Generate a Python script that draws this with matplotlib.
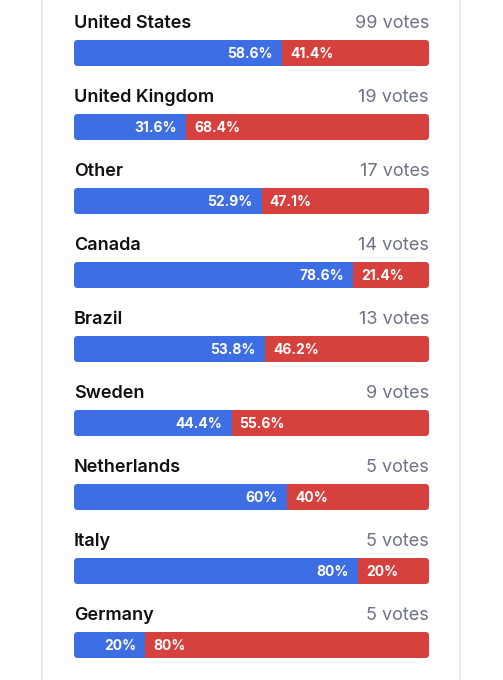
import matplotlib
matplotlib.use('Agg')

import matplotlib.pyplot as plt
from matplotlib.patches import FancyBboxPatch
from matplotlib.lines import Line2D

countries = ['United States', 'United Kingdom', 'Other', 'Canada', 'Brazil',
             'Sweden', 'Netherlands', 'Italy', 'Germany']
votes = [99, 19, 17, 14, 13, 9, 5, 5, 5]
blue_pct = [58.6, 31.6, 52.9, 78.6, 53.8, 44.4, 60, 80, 20]
red_pct = [41.4, 68.4, 47.1, 21.4, 46.2, 55.6, 40, 20, 80]

BLUE = '#3e6ee4'
RED = '#d6413e'
GREY = '#6e7385'

W, H = 503, 680
fig = plt.figure(figsize=(W / 100, H / 100), dpi=100)
fig.patch.set_facecolor('white')

# card border
for xb in (42, 460):
    fig.add_artist(Line2D([xb / W, xb / W], [0, 1], color='#e6e6e8', lw=1.2))

x0, x1 = 74, 429
ax = fig.add_axes([x0 / W, 0, (x1 - x0) / W, 1])
ax.set_xlim(0, 100)
ax.set_ylim(H, 0)
ax.axis('off')

px_per_unit = (x1 - x0) / 100.0
step = 74
bar_h = 26


def fmt(v):
    return ('%g' % v) + '%'


for i, name in enumerate(countries):
    ty = 28.5 + step * i
    by = 53 + step * i
    ax.text(0, ty, name, ha='left', va='baseline', fontsize=13,
            family='Inter', fontweight='semibold', color='#111111')
    ax.text(100, ty, '%d votes' % votes[i], ha='right', va='baseline', fontsize=13,
            family='Inter', color=GREY)

    b = ax.barh(by, blue_pct[i], height=bar_h, color=BLUE, left=0)
    r = ax.barh(by, red_pct[i], height=bar_h, color=RED, left=blue_pct[i])
    clip = FancyBboxPatch((0, by - bar_h / 2), 100, bar_h,
                          boxstyle='round,pad=0,rounding_size=%f' % (3.5 / px_per_unit),
                          mutation_aspect=px_per_unit, transform=ax.transData,
                          facecolor='none', edgecolor='none')
    ax.add_patch(clip)
    for p in list(b) + list(r):
        p.set_clip_path(clip)

    ax.text(blue_pct[i] - 9 / px_per_unit, by + 5, fmt(blue_pct[i]), ha='right',
            va='baseline', fontsize=10, family='Inter', fontweight='bold', color='white')
    ax.text(blue_pct[i] + 8 / px_per_unit, by + 5, fmt(red_pct[i]), ha='left',
            va='baseline', fontsize=10, family='Inter', fontweight='bold', color='white')

fig.savefig('out.png', dpi=100)
plt.close(fig)
